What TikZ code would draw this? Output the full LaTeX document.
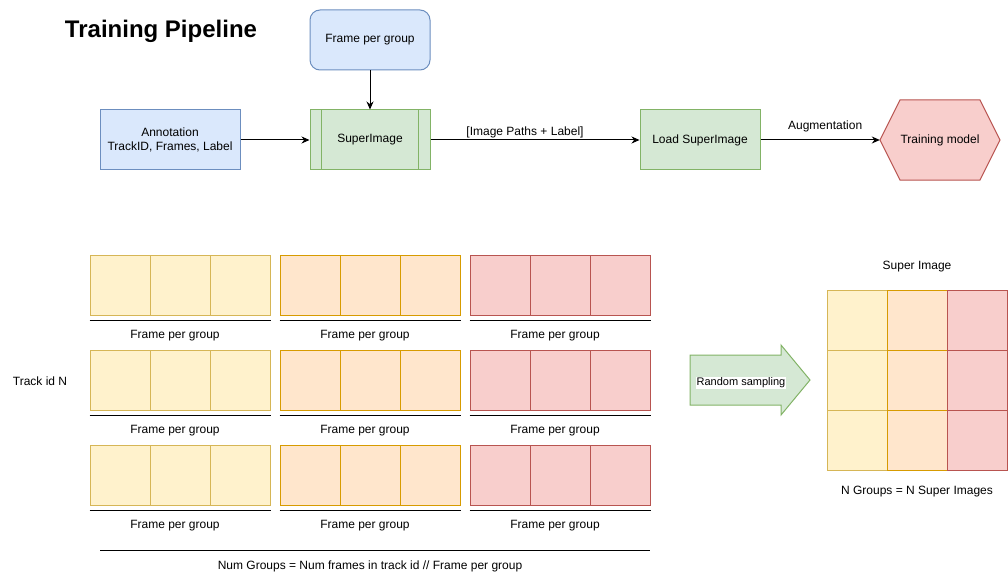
\documentclass[tikz,border=0pt]{standalone}
\usepackage{fontspec}
\setmainfont{Liberation Sans}
\usetikzlibrary{positioning, arrows.meta}

\definecolor{bluefill}{HTML}{DAE8FC}
\definecolor{blueline}{HTML}{6C8EBF}
\definecolor{greenfill}{HTML}{D5E8D4}
\definecolor{greenline}{HTML}{82B366}
\definecolor{yellowfill}{HTML}{FFF2CC}
\definecolor{yellowline}{HTML}{D6B656}
\definecolor{orangefill}{HTML}{FFE6CC}
\definecolor{orangeline}{HTML}{D79B00}
\definecolor{redfill}{HTML}{F8CECC}
\definecolor{redline}{HTML}{B85450}

\begin{document}
\begin{tikzpicture}[x=1pt, y=-1pt, font=\fontsize{12}{14}\selectfont,
  box/.style={draw, line width=1pt, minimum width=120, minimum height=60, align=center, inner sep=0pt},
  bluebox/.style={box, fill=bluefill, draw=blueline},
  greenbox/.style={box, fill=greenfill, draw=greenline},
  cell/.style={draw, line width=1pt, minimum size=60, inner sep=0pt},
  link/.style={-{Stealth[length=8pt, width=7pt]}, line width=1pt},
  rule/.style={line width=1pt}]
  \useasboundingbox (0,0) rectangle (1008,580);

  \node[font=\fontsize{24}{28}\selectfont\bfseries] (title) at (161,31) {Training Pipeline};

  % top pipeline
  \node[bluebox, rounded corners=10] (fpg) at (370,40) {Frame per group};
  \node[bluebox, minimum width=140] (annot) at (170,140) {Annotation\\TrackID, Frames, Label};
  \node[greenbox] (super) at (370,140) {SuperImage};
  \draw[greenline, line width=1pt] ([xshift=12]super.north west) -- ([xshift=12]super.south west)
    ([xshift=-12]super.north east) -- ([xshift=-12]super.south east);
  \node[greenbox] (load) at (700,140) {Load SuperImage};
  \draw[draw=redline, fill=redfill, line width=1pt] (880,140) -- (900,100) -- (980,100)
    -- (1000,140) -- (980,180) -- (900,180) -- cycle;
  \node[minimum width=120, minimum height=80, inner sep=0pt] (train) at (940,140) {Training model};

  \draw[link] (fpg) -- (super);
  \draw[link] (annot) -- (super);
  \draw[link] (super) -- node[above=-2pt, xshift=-10] {[Image Paths + Label]} (load);
  \draw[link] (load) -- node[above=4pt, xshift=5] {Augmentation} (train);

  % groups of one track
  \node (track) at (40,381) {Track id N};
  \foreach \r in {0,1,2} {
    \foreach \g/\fc/\lc in {0/yellowfill/yellowline, 1/orangefill/orangeline, 2/redfill/redline} {
      \foreach \c in {0,1,2}
        \node[cell, fill=\fc, draw=\lc] (c\r\g\c) at ({120+190*\g+60*\c}, {285+95*\r}) {};
      \draw[rule] ([yshift=-5]c\r\g0.south west) -- ([yshift=-5]c\r\g2.south east);
      \node (lbl\r\g) at ({175+190*\g}, {336+95*\r}) {Frame per group};
    }
  }
  \draw[rule] (100,550) -- (650,550);
  \node (numgroups) at (370,566) {Num Groups = Num frames in track id // Frame per group};

  % sampling arrow
  \draw[draw=greenline, fill=greenfill, line width=1pt] (690,355) -- (781,355) -- (781,345)
    -- (810,380) -- (781,415) -- (781,405) -- (690,405) -- cycle;
  \node[fill=white, inner sep=1pt, font=\fontsize{11}{13}\selectfont] (sampling) at (741,383) {Random sampling};

  % super image
  \node (suptitle) at (917,267) {Super Image};
  \foreach \i/\fc/\lc in {0/yellowfill/yellowline, 1/orangefill/orangeline, 2/redfill/redline}
    \foreach \j in {0,1,2}
      \node[cell, fill=\fc, draw=\lc] (s\i\j) at ({857+60*\i}, {320+60*\j}) {};
  \node (supnote) at (917,492) {N Groups = N Super Images};
\end{tikzpicture}
\end{document}
